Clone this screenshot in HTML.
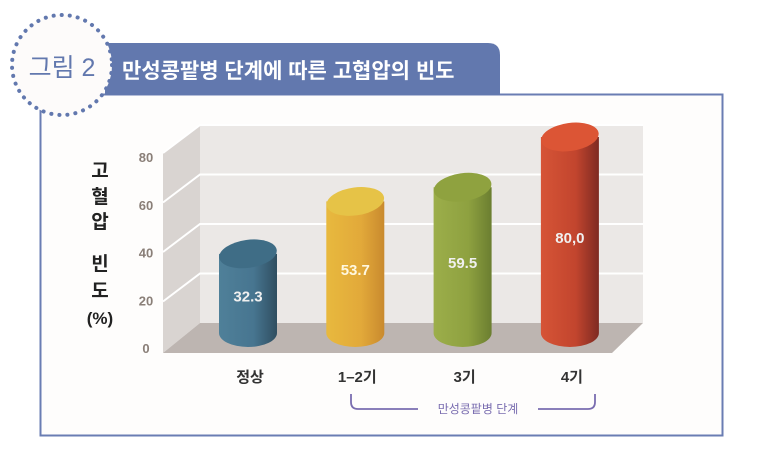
<!DOCTYPE html>
<html><head><meta charset="utf-8"><style>
body{margin:0;width:760px;height:458px;background:#fff;overflow:hidden;font-family:"Liberation Sans","Noto Sans CJK KR",sans-serif}
</style></head><body>
<svg width="760" height="458" viewBox="0 0 760 458" xmlns="http://www.w3.org/2000/svg" font-family="Liberation Sans, Noto Sans CJK KR, sans-serif">
<defs>
<linearGradient id="gb" x1="0" x2="1"><stop offset="0" stop-color="#4f8099"/><stop offset="0.6" stop-color="#477590"/><stop offset="1" stop-color="#2f4e60"/></linearGradient>
<linearGradient id="gy" x1="0" x2="1"><stop offset="0" stop-color="#e8b93e"/><stop offset="0.6" stop-color="#e2a93a"/><stop offset="1" stop-color="#c98a2e"/></linearGradient>
<linearGradient id="gg" x1="0" x2="1"><stop offset="0" stop-color="#9cae4a"/><stop offset="0.6" stop-color="#8ea140"/><stop offset="1" stop-color="#6b7e30"/></linearGradient>
<linearGradient id="gr" x1="0" x2="1"><stop offset="0" stop-color="#d65436"/><stop offset="0.6" stop-color="#c2452e"/><stop offset="1" stop-color="#7e2a22"/></linearGradient>
</defs>
<rect x="40.5" y="94.5" width="682" height="341" fill="#fefdfc" stroke="#6a7db3" stroke-width="2"/>
<path d="M105 43 H488 Q500 43 500 55 V95 H105 Z" fill="#6278ae"/>
<text x="122" y="78" font-size="21" fill="#fff" font-weight="bold">만성콩팥병 단계에 따른 고협압의 빈도</text>
<circle cx="62" cy="65" r="50" fill="#fdfbfa" stroke="#6278ae" stroke-width="4" stroke-dasharray="0.1 8" stroke-linecap="round"/>
<text x="62" y="76" font-size="25" fill="#6278ae" text-anchor="middle">그림 2</text>
<g font-size="19" fill="#222" text-anchor="middle" font-weight="bold">
<text x="100" y="177">고</text><text x="100" y="203">혈</text><text x="100" y="228">압</text><text x="100" y="270">빈</text><text x="100" y="297">도</text><text x="100" y="324" font-size="17">(%)</text>
</g>
<g id="plot"></g>
<g>
<path d="M351 394 V402 Q351 409 358 409 H418 M538 409 H588 Q595 409 595 402 V394" fill="none" stroke="#7a6db0" stroke-width="1.8"/>
<text x="478" y="413" font-size="12" fill="#7a6db0" text-anchor="middle">만성콩팥병 단계</text>
</g>
<script>
const categories=["정상","1–2기","3기","4기"];
const values=[32.3,53.7,59.5,80.0];
const valueLabels=["32.3","53.7","59.5","80,0"];
const ticks=[0,20,40,60,80];
const NS="http://www.w3.org/2000/svg";
const g=document.getElementById('plot');
function mk(t,a){const e=document.createElementNS(NS,t);for(const k in a)e.setAttribute(k,a[k]);g.appendChild(e);return e;}
const backZero=323, backTop=125, frontZero=353, dx=-37;
function yBack(v){return backZero-(backZero-backTop)*v/80;}
function xCat(i){return 248+i*107.3;}
const base=333, unit=2.45;
function yBar(v){return base-v*unit;}
// back wall
let e=mk('rect',{x:200,y:backTop,width:443,height:backZero-backTop,fill:'#ebe8e6'});


e=mk('polygon',{points:`163,152 200,${backTop} 200,${backZero} 163,${frontZero}`,fill:'#d9d4d1'});


e=mk('polygon',{points:`200,${backZero} 643,${backZero} 612,${frontZero} 163,${frontZero}`,fill:'#bdb5b1'});


ticks.forEach(t=>{
  const y=yBack(t);
  if(t>0){
    const l=mk('path',{d:`M163 ${y+28} L200 ${y} H643`,stroke:'#fff',"stroke-width":2,fill:'none'});
    
    
  }
  const ty=348-(348-157)*t/80;
  const tx=mk('text',{x:146,y:ty+5,"font-size":13,"font-weight":"bold",fill:'#8a7f78',"text-anchor":"middle"});
  tx.textContent=t;
  
  
});
const fills=['url(#gb)','url(#gy)','url(#gg)','url(#gr)'];
const tops=['#3f6d86','#e6c347','#8fa23f','#dc5535'];
values.forEach((v,i)=>{
  const cx=xCat(i), rx=29, ry=14, yt=yBar(v);
  const c=mk('path',{d:`M${cx-rx} ${yt} V${base} A${rx} ${ry} 0 0 0 ${cx+rx} ${base} V${yt} Z`,fill:fills[i]});
  
  
  const t=mk('ellipse',{cx:cx,cy:yt,rx:rx,ry:ry,fill:tops[i],transform:`rotate(-8 ${cx} ${yt})`});
  
  
  const lb=mk('text',{x:cx,y:(yt+base)/2+8,"font-size":15,"font-weight":"bold",fill:i==1?'#fff8e0':'#f0f0f0',"text-anchor":"middle"});
  lb.textContent=valueLabels[i];
  
  
  const xl=mk('text',{x:cx+2,y:382,"font-size":15,"font-weight":"bold",fill:'#333',"text-anchor":"middle"});
  xl.textContent=categories[i];
  
  
});
</script>
</svg>
</body></html>
